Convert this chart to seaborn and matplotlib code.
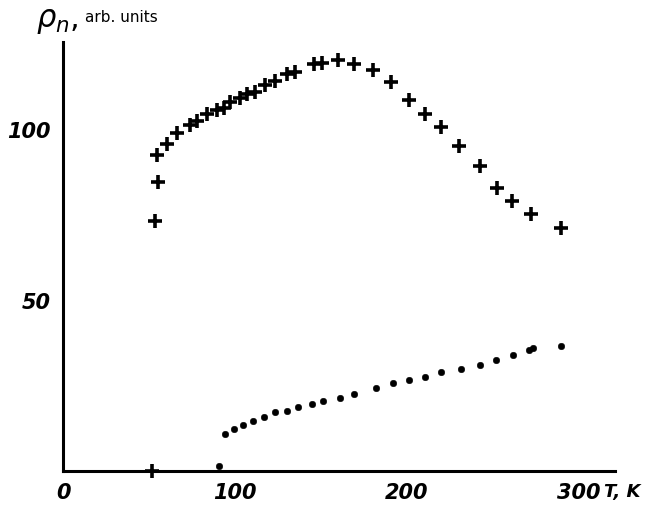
import matplotlib
matplotlib.use("Agg")
import pandas as pd
import seaborn as sns
import matplotlib.pyplot as plt

# resistivity of sample 1 (crosses)
cross_T = [52, 53.6, 55.5, 54.6, 60.4, 66.2, 74, 77.9, 83.7, 89.5, 93.4, 97.3,
           103.1, 107, 111.8, 117.6, 123.5, 130.3, 135, 145.8, 150.6, 160,
           169.5, 180.4, 190.9, 201.5, 210.8, 220.1, 230.2, 242.3, 252.6,
           261.3, 272, 289.5]
cross_rho = [0, 73.1, 84.6, 92.4, 95.6, 99.0, 101.2, 102.4, 104.4, 105.6, 106.3,
             107.8, 109.0, 110.2, 110.9, 112.9, 114.1, 116.1, 116.8, 119.0,
             119.3, 120.3, 119.0, 117.4, 113.9, 108.6, 104.4, 100.5, 95.1,
             89.1, 82.9, 79.0, 75.1, 71.2]

# sample 2 (dots)
dot_T = [91, 94.4, 99.6, 104.6, 110.4, 117, 123.5, 130.3, 136.7, 144.8, 151.2,
         160.9, 169.5, 182.1, 192, 201.5, 210.8, 219.6, 231.2, 242.3, 251.6,
         261.9, 271, 273.5, 289.5]
dot_rho = [1.5, 10.8, 12.3, 13.5, 14.7, 15.7, 17.2, 17.6, 18.6, 19.6, 20.6, 21.3,
           22.5, 24.2, 25.7, 26.7, 27.4, 28.9, 29.8, 31.0, 32.5, 34.0, 35.5,
           35.9, 36.6]

x_ticks = [0, 100, 200, 300]
y_ticks = [50, 100]

crosses = pd.DataFrame({"T": cross_T, "rho": cross_rho})
dots = pd.DataFrame({"T": dot_T, "rho": dot_rho})

sns.set_style("white")
plt.rcParams["font.family"] = ["DejaVu Sans"]
plt.rcParams["text.color"] = "black"

fig = plt.figure(figsize=(6.47, 5.06), dpi=100)
ax = fig.add_axes([0.0974, 0.0672, 0.853, 0.848])

sns.scatterplot(data=crosses, x="T", y="rho", marker="+", s=105, color="black",
                linewidth=2.6, ax=ax, clip_on=False, zorder=3)
sns.scatterplot(data=dots, x="T", y="rho", marker="o", s=22, color="black",
                edgecolor="black", ax=ax, clip_on=False, zorder=3)

ax.set_xlim(0, 321)
ax.set_ylim(0, 125.5)
ax.set_xticks(x_ticks)
ax.set_yticks(y_ticks)
ax.set_xlabel("")
ax.set_ylabel("")
sns.despine(ax=ax)
for side in ["left", "bottom"]:
    ax.spines[side].set_linewidth(2.2)
    ax.spines[side].set_color("black")

ax.tick_params(axis="both", direction="in", length=7, width=1.5, colors="black")
ax.tick_params(axis="x", pad=8)
ax.tick_params(axis="y", pad=9)
for lab in ax.get_xticklabels() + ax.get_yticklabels():
    lab.set_fontsize(15)
    lab.set_fontweight("bold")
    lab.set_fontstyle("italic")

fig.text(604 / 647, 1 - 492 / 506, "T, K", fontsize=13, fontweight="bold",
         fontstyle="italic", va="center", ha="left", color="black")
fig.text(36 / 647, 1 - 22 / 506, r"$\rho_n$,", fontsize=22, va="center",
         ha="left", color="black")
fig.text(85 / 647, 1 - 17 / 506, "arb. units", fontsize=11, va="center",
         ha="left", color="black")

fig.savefig("out.png", dpi=100)
